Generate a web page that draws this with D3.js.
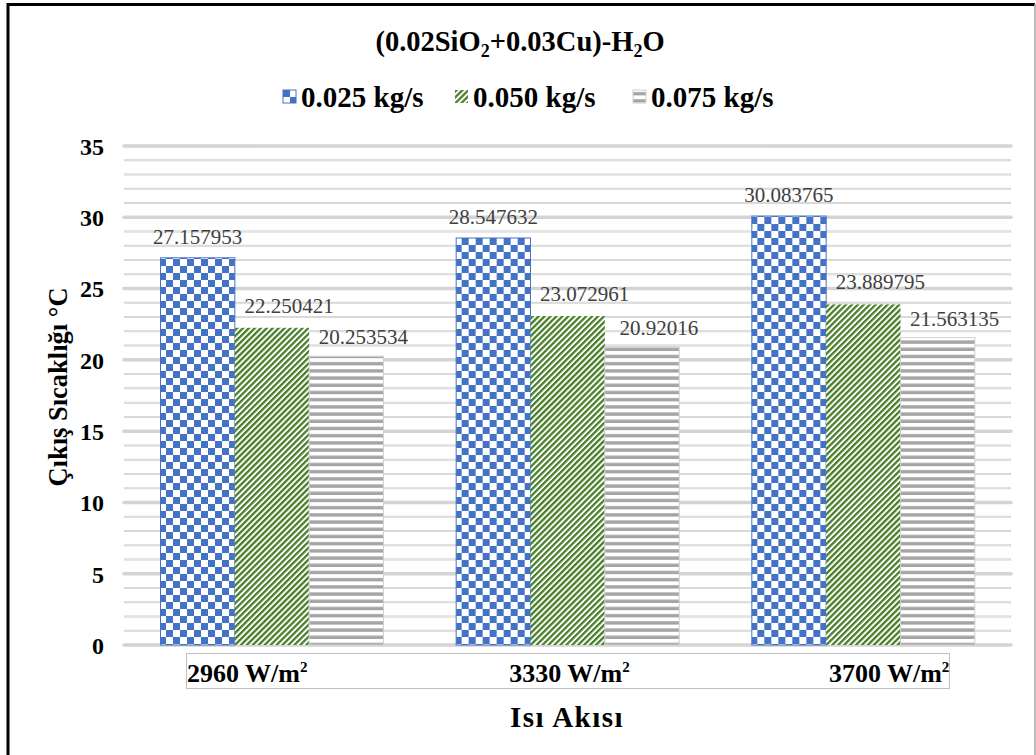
<!DOCTYPE html>
<html>
<head>
<meta charset="utf-8">
<script src="https://cdn.jsdelivr.net/npm/d3@7"></script>
<style>
  body { margin: 0; background: #fff; }
  svg { display: block; }
  svg text { font-family: "Liberation Serif", "Times New Roman", serif !important; }
</style>
</head>
<body>
<svg id="chart"></svg>
<script>
const categories = ['2960', '3330', '3700'];
const series = ['0.025 kg/s', '0.050 kg/s', '0.075 kg/s'];
const flow025 = [27.157953, 28.547632, 30.083765];
const flow050 = [22.250421, 23.072961, 23.889795];
const flow075 = [20.253534, 20.92016, 21.563135];
const yTicks = [0, 5, 10, 15, 20, 25, 30, 35];

const w = 1036;
const h = 755;
const plotLeft = 124, plotRight = 1011, plotTop = 146, plotBottom = 645;

const svg = d3.select('#chart')
  .attr('width', w)
  .attr('height', h);

// patterns
const defs = svg.append('defs');
const pBlue = defs.append('pattern').attr('id', 'pBlue')
  .attr('patternUnits', 'userSpaceOnUse').attr('width', 14).attr('height', 14);
pBlue.append('rect').attr('width', 14).attr('height', 14).attr('fill', '#fff');
pBlue.append('rect').attr('width', 7).attr('height', 7).attr('fill', '#4472c4');
pBlue.append('rect').attr('x', 7).attr('y', 7).attr('width', 7).attr('height', 7).attr('fill', '#4472c4');

const pGreen = defs.append('pattern').attr('id', 'pGreen')
  .attr('patternUnits', 'userSpaceOnUse').attr('width', 4.2).attr('height', 4.2)
  .attr('patternTransform', 'rotate(45)');
pGreen.append('rect').attr('width', 4.2).attr('height', 4.2).attr('fill', '#fff');
pGreen.append('rect').attr('width', 2.3).attr('height', 4.2).attr('fill', '#4a7f2a');

const pGray = defs.append('pattern').attr('id', 'pGray')
  .attr('patternUnits', 'userSpaceOnUse').attr('width', 7).attr('height', 7.2);
pGray.append('rect').attr('width', 7).attr('height', 7.2).attr('fill', '#fff');
pGray.append('rect').attr('y', 2).attr('width', 7).attr('height', 3.4).attr('fill', '#a5a5a5');

const fills = ['url(#pBlue)', 'url(#pGreen)', 'url(#pGray)'];
const strokes = ['#4472c4', 'none', '#d0d0d0'];

// frame
svg.append('path')
  .attr('d', `M8,${h} V4.5 H1035`)
  .attr('fill', 'none').attr('stroke', '#000').attr('stroke-width', 3);
svg.append('line')
  .attr('x1', 1035).attr('x2', 1035).attr('y1', 4).attr('y2', h)
  .attr('stroke', '#a6a6a6').attr('stroke-width', 1.5);

const yScale = d3.scaleLinear().domain([0, 35]).range([plotBottom, plotTop]);
const xScale = d3.scaleBand().domain(categories).range([plotLeft, plotRight]).padding(0);
const xInner = d3.scaleBand().domain(series).range([36.5, 259.5]).padding(0);

// gridlines
const minor = d3.range(0, 36).filter(v => v % 5 !== 0);
svg.append('g').selectAll('line').data(minor).enter().append('line')
  .attr('x1', plotLeft).attr('x2', plotRight)
  .attr('y1', d => yScale(d)).attr('y2', d => yScale(d))
  .attr('stroke', '#cfcfcf').attr('stroke-width', 2);
svg.append('g').selectAll('line').data(minor).enter().append('line')
  .attr('x1', plotLeft + 1).attr('x2', plotRight - 1)
  .attr('y1', d => yScale(d)).attr('y2', d => yScale(d))
  .attr('stroke', '#f2f2f2').attr('stroke-width', 0.6);
svg.append('g').selectAll('line').data(yTicks).enter().append('line')
  .attr('x1', plotLeft).attr('x2', plotRight)
  .attr('y1', d => yScale(d)).attr('y2', d => yScale(d))
  .attr('stroke', '#d4d4d4').attr('stroke-width', 3.5)
  .attr('stroke-linecap', 'round');

// y axis labels
const yAxis = d3.axisLeft(yScale).tickValues(yTicks).tickSize(0).tickPadding(0);
svg.append('g')
  .attr('transform', `translate(104, 0)`)
  .call(yAxis)
  .call(g => g.select('.domain').remove())
  .selectAll('text')
  .attr('font-size', 24).attr('font-weight', 'bold').attr('fill', '#000')
  .attr('dy', '0.35em');

// bars
const rows = categories.map((c, i) => ({ cat: c, vals: [flow025[i], flow050[i], flow075[i]] }));
const groups = svg.append('g').selectAll('g').data(rows).enter().append('g')
  .attr('transform', d => `translate(${xScale(d.cat)},0)`);

groups.selectAll('rect')
  .data(d => d.vals.map((v, j) => ({ s: series[j], j, v })))
  .enter().append('rect')
  .attr('x', d => xInner(d.s))
  .attr('y', d => yScale(d.v))
  .attr('width', xInner.bandwidth())
  .attr('height', d => plotBottom - yScale(d.v))
  .attr('fill', d => fills[d.j])
  .attr('stroke', d => strokes[d.j])
  .attr('stroke-width', 1);

const labelDx = [0, 17, 17];
const labelDy = [-14, -15, -12];
groups.selectAll('text.val')
  .data(d => d.vals.map((v, j) => ({ s: series[j], j, v })))
  .enter().append('text')
  .attr('class', 'val')
  .attr('x', d => xInner(d.s) + xInner.bandwidth() / 2 + labelDx[d.j])
  .attr('y', d => yScale(d.v) + labelDy[d.j])
  .attr('text-anchor', 'middle')
  .attr('font-size', 21).attr('fill', '#404040')
  .text(d => String(d.v));

// category label box
svg.append('rect')
  .attr('x', 186.5).attr('y', 653.5).attr('width', 763).attr('height', 35)
  .attr('fill', 'none').attr('stroke', '#c0c0c0').attr('stroke-width', 1);

const catX = [xScale(categories[0]) + 63, xScale(categories[1]) + xScale.bandwidth() / 2 + 2, xScale(categories[2]) + 234];
const catAnchor = ['start', 'middle', 'end'];
const catText = svg.append('g').selectAll('text').data(categories).enter().append('text')
  .attr('x', (d, i) => catX[i]).attr('y', 682)
  .attr('text-anchor', (d, i) => catAnchor[i])
  .attr('font-size', 26).attr('font-weight', 'bold');
catText.append('tspan').text(d => d + ' W/m');
catText.append('tspan').attr('dy', -10).attr('font-size', 15).text('2');

// title
const title = svg.append('text')
  .attr('x', 520).attr('y', 51).attr('text-anchor', 'middle')
  .attr('font-size', 28.5).attr('font-weight', 'bold');
title.append('tspan').text('(0.02SiO');
title.append('tspan').attr('dy', 6).attr('font-size', 18).text('2');
title.append('tspan').attr('dy', -6).text('+0.03Cu)-H');
title.append('tspan').attr('dy', 6).attr('font-size', 18).text('2');
title.append('tspan').attr('dy', -6).text('O');

// legend
const legendX = [283, 455, 633];
const legend = svg.append('g').selectAll('g').data(series).enter().append('g')
  .attr('transform', (d, i) => `translate(${legendX[i]}, 90)`);
legend.append('rect')
  .attr('width', 13).attr('height', 13)
  .attr('fill', (d, i) => fills[i])
  .attr('stroke', (d, i) => strokes[i]);
legend.append('text')
  .attr('x', 18).attr('y', 16.5)
  .attr('font-size', 29).attr('font-weight', 'bold')
  .text(d => d);

// axis titles
svg.append('text')
  .attr('x', 567).attr('y', 727).attr('text-anchor', 'middle')
  .attr('font-size', 29).attr('font-weight', 'bold')
  .attr('letter-spacing', 1.5)
  .text('Isı Akısı');

svg.append('text')
  .attr('transform', 'translate(67, 387) rotate(-90)')
  .attr('text-anchor', 'middle')
  .attr('font-size', 26.5).attr('font-weight', 'bold')
  .text('Çıkış Sıcaklığı °C');
</script>
</body>
</html>
